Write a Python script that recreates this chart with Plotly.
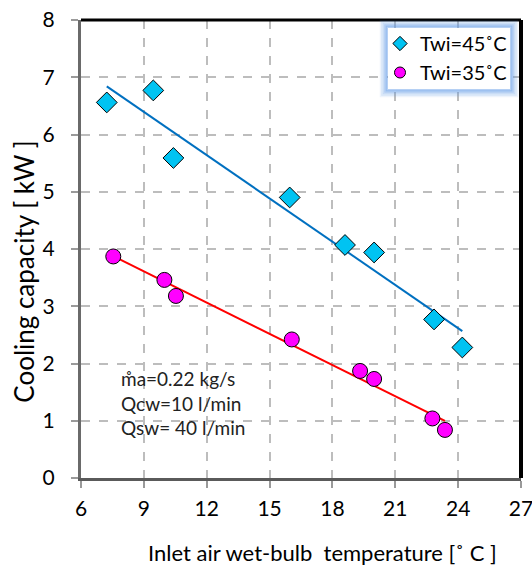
import numpy as np
import plotly.graph_objects as go

# Measured cooling capacity vs. inlet air wet-bulb temperature
twb_45 = [7.23, 9.45, 10.41, 15.96, 18.60, 19.99, 22.85, 24.20]
q_45 = [6.56, 6.77, 5.59, 4.90, 4.07, 3.94, 2.77, 2.28]

twb_35 = [7.54, 9.98, 10.53, 16.06, 19.32, 19.99, 22.77, 23.37]
q_35 = [3.87, 3.46, 3.18, 2.42, 1.87, 1.73, 1.04, 0.84]

x_ticks = [6, 9, 12, 15, 18, 21, 24, 27]
y_ticks = [0, 1, 2, 3, 4, 5, 6, 7, 8]

FONT = "Lato"
BLUE_FILL = "#00C3F2"
MAGENTA = "#FF00FF"
BLUE_LINE = "#0070C0"
RED_LINE = "#FF0000"


def linear_trend(x, y):
    slope, intercept = np.polyfit(x, y, 1)
    xs = np.array([min(x), max(x)])
    return xs, slope * xs + intercept


fig = go.Figure()

# Least-squares trend lines
tx, ty = linear_trend(twb_45, q_45)
fig.add_trace(go.Scatter(x=tx, y=ty, mode="lines", showlegend=False,
                         line=dict(color=BLUE_LINE, width=2)))
tx, ty = linear_trend(twb_35, q_35)
fig.add_trace(go.Scatter(x=tx, y=ty, mode="lines", showlegend=False,
                         line=dict(color=RED_LINE, width=2)))

# Measured points
fig.add_trace(go.Scatter(x=twb_45, y=q_45, mode="markers", showlegend=False,
                         marker=dict(symbol="diamond", size=16, color=BLUE_FILL,
                                     line=dict(color="black", width=1))))
fig.add_trace(go.Scatter(x=twb_35, y=q_35, mode="markers", showlegend=False,
                         marker=dict(symbol="circle", size=15, color=MAGENTA,
                                     line=dict(color="black", width=1))))

# Legend entries with smaller symbols
fig.add_trace(go.Scatter(x=[None], y=[None], mode="markers", name="Twi=45˚C",
                         marker=dict(symbol="diamond", size=11, color=BLUE_FILL,
                                     line=dict(color="black", width=1))))
fig.add_trace(go.Scatter(x=[None], y=[None], mode="markers", name="Twi=35˚C",
                         marker=dict(symbol="circle", size=11, color=MAGENTA,
                                     line=dict(color="black", width=1))))

grid = dict(showgrid=True, gridcolor="#BDBDBD", griddash="dash", gridwidth=1.5)

fig.update_xaxes(range=[6, 27], tickvals=x_ticks, ticks="outside", ticklen=7,
                 tickcolor="#9A9A9A", tickwidth=1.5, showline=True,
                 linecolor="#5A5A5A", linewidth=3, zeroline=False,
                 tickfont=dict(family=FONT, size=21, color="black"),
                 ticklabelstandoff=3, ticklabeloverflow="allow", **grid)
fig.update_yaxes(range=[0, 8], tickvals=y_ticks, ticks="outside", ticklen=7,
                 tickcolor="#9A9A9A", tickwidth=1.5, showline=True,
                 linecolor="#6A6A6A", linewidth=3, zeroline=False,
                 tickfont=dict(family=FONT, size=21, color="black"),
                 ticklabelstandoff=12, **grid)

# legend box in paper coordinates (plot area is 440 x 458 px)
LX0, LX1 = (388 - 81) / 440, (510 - 81) / 440
LY0, LY1 = (478 - 89) / 458, (478 - 28) / 458

shapes = [
    # top and right frame of the plot area
    dict(type="line", xref="paper", yref="paper", x0=0, x1=1, y0=1, y1=1,
         line=dict(color="black", width=3)),
    dict(type="line", xref="paper", yref="paper", x0=1, x1=1, y0=0, y1=1,
         line=dict(color="black", width=4)),
]
# soft blue glow around the legend box
for pad, alpha in [(7, 0.10), (5.5, 0.16), (4, 0.24), (2.5, 0.34), (1.2, 0.45)]:
    px = pad / 440
    py = pad / 458
    shapes.append(dict(type="rect", xref="paper", yref="paper",
                       x0=LX0 - px, x1=LX1 + px, y0=LY0 - py, y1=LY1 + py,
                       line=dict(color=f"rgba(90,150,230,{alpha})", width=2.5),
                       fillcolor="rgba(0,0,0,0)"))
shapes.append(dict(type="rect", xref="paper", yref="paper",
                   x0=LX0, x1=LX1, y0=LY0, y1=LY1,
                   line=dict(width=0), fillcolor="white"))

annotations = [
    dict(text="Cooling capacity [ kW ]", xref="paper", yref="paper",
         x=-0.13, y=0.45, xanchor="center", yanchor="middle", textangle=-90,
         showarrow=False, font=dict(family=FONT, size=26, color="black")),
    dict(text="Inlet air wet-bulb  temperature [˚ C ]", xref="paper", yref="paper",
         x=0.548, y=-0.162, xanchor="center", yanchor="middle",
         showarrow=False, font=dict(family=FONT, size=22, color="black")),
    dict(text="m\u030aa=0.22 kg/s<br>Qcw=10 l/min<br>Qsw= 40 l/min",
         xref="paper", yref="paper", x=0.087, y=0.164, xanchor="left",
         yanchor="middle", align="left", showarrow=False,
         font=dict(family=FONT, size=19, color="#222222")),
]

fig.update_layout(
    width=532, height=570,
    margin=dict(l=81, r=11, t=20, b=92, autoexpand=False),
    paper_bgcolor="white", plot_bgcolor="white",
    showlegend=True,
    legend=dict(x=(380 - 81) / 440, y=(478 - 24) / 458, xanchor="left",
                yanchor="top", bgcolor="rgba(0,0,0,0)",
                bordercolor="rgba(0,0,0,0)", borderwidth=0,
                font=dict(family=FONT, size=20, color="black"),
                tracegroupgap=0, itemwidth=30),
    shapes=shapes,
    annotations=annotations,
)

fig.write_html("out.html")
